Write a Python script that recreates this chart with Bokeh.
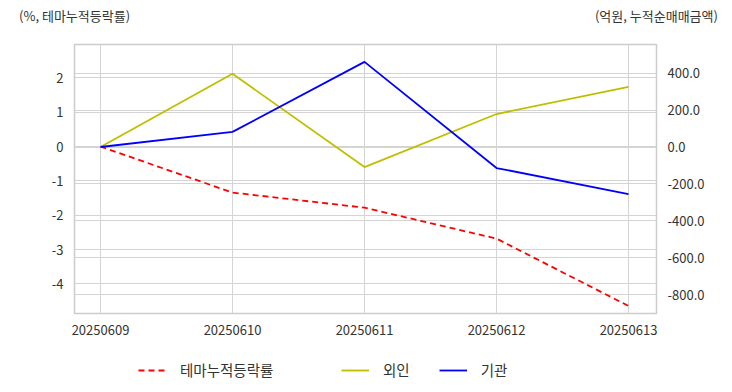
from bokeh.plotting import figure
from bokeh.layouts import column
from bokeh.models import (Range1d, LinearAxis, FixedTicker, Grid, Legend, LegendItem,
                          PrintfTickFormatter, ColumnDataSource)
from bokeh.embed import file_html
from bokeh.resources import INLINE

dates = ["20250609", "20250610", "20250611", "20250612", "20250613"]
theme_cum = [0.0, -1.34, -1.78, -2.68, -4.64]      # 테마누적등락률 (%)
foreign = [0.0, 397.0, -109.0, 179.0, 326.0]      # 외인 (억원)
institution = [0.0, 82.0, 462.0, -114.0, -255.0]  # 기관 (억원)
left_ticks = [-4, -3, -2, -1, 0, 1, 2]
right_ticks = [-800, -600, -400, -200, 0, 200, 400]
series_names = ["테마누적등락률", "외인", "기관"]
series_colors = ["#ff0000", "#bfbf00", "#0000ff"]
left_title = "(%, 테마누적등락률)"
right_title = "(억원, 누적순매매금액)"

FONT = "Noto Sans CJK KR"
TXT = "#333333"
W = 730
xs = list(range(len(dates)))
src = ColumnDataSource(dict(x=xs, theme=theme_cum, foreign=foreign, inst=institution))

# ---------------- main chart
p = figure(width=W, height=345, output_backend="svg", toolbar_location=None,
           x_range=Range1d(-0.197, 4.212), y_range=Range1d(-4.86, 2.97))
p.min_border_left = 74
p.min_border_right = 74
p.min_border_top = 44
p.min_border_bottom = 32
p.outline_line_color = "#cccccc"
p.outline_line_width = 1.5

xax = p.below[0]
lax = p.left[0]

# right axis (억원)
p.extra_y_ranges = {"right": Range1d(-903, 556)}
rax = LinearAxis(y_range_name="right", ticker=FixedTicker(ticks=right_ticks),
                 formatter=PrintfTickFormatter(format="%.1f"))
p.add_layout(rax, "right")

# header captions carried by an axis above the frame (ticks at both frame edges)
p.extra_x_ranges = {"hdr": Range1d(-0.0001, 1.0001)}
hax = LinearAxis(x_range_name="hdr", ticker=FixedTicker(ticks=[0, 1]),
                 major_label_overrides={0: left_title, 1: right_title})
p.add_layout(hax, "above")

lax.ticker = FixedTicker(ticks=left_ticks)
lax.formatter = PrintfTickFormatter(format="%d")
xax.ticker = FixedTicker(ticks=xs)
xax.major_label_overrides = {i: d for i, d in enumerate(dates)}

for ax in (xax, lax, rax, hax):
    ax.axis_line_color = None
    ax.major_tick_line_color = None
    ax.minor_tick_line_color = None
    ax.major_label_text_font = FONT
    ax.major_label_text_font_size = "13px"
    ax.major_label_text_color = TXT
    ax.major_label_standoff = 5
hax.major_label_standoff = 14

p.xgrid.grid_line_color = "#d4d4d4"
p.ygrid.grid_line_color = "#d4d4d4"
p.add_layout(Grid(dimension=1, ticker=FixedTicker(ticks=right_ticks), y_range_name="right",
                  grid_line_color="#d4d4d4"))

p.line("x", "theme", source=src, line_color=series_colors[0], line_width=1.8, line_dash="6 4")
p.line("x", "foreign", source=src, line_color=series_colors[1], line_width=1.8,
       y_range_name="right")
p.line("x", "inst", source=src, line_color=series_colors[2], line_width=1.8,
       y_range_name="right")

# ---------------- legend strip under the chart (same frame borders as the chart)
lg = figure(width=W, height=45, output_backend="svg", toolbar_location=None,
            x_range=Range1d(1000, 1001), y_range=Range1d(10000, 10001),
            x_axis_type=None, y_axis_type=None)
lg.min_border_left = 74
lg.min_border_right = 74
lg.min_border_top = 0
lg.min_border_bottom = 0
lg.outline_line_color = None
lg.grid.visible = False

# same series, outside this strip's view: they only lend their style to the legend
l1 = lg.line("x", "theme", source=src, line_color=series_colors[0], line_width=1.8,
             line_dash="6 4")
l2 = lg.line("x", "foreign", source=src, line_color=series_colors[1], line_width=1.8)
l3 = lg.line("x", "inst", source=src, line_color=series_colors[2], line_width=1.8)


def mk_legend(items, loc):
    return Legend(items=items, location=loc, orientation="horizontal",
                  border_line_alpha=0, background_fill_alpha=0, padding=0, margin=0,
                  spacing=29, glyph_width=28, glyph_height=20, label_standoff=14,
                  label_text_font=FONT, label_text_font_size="14.5px",
                  label_text_color=TXT)


lg.add_layout(mk_legend([LegendItem(label=series_names[0], renderers=[l1])], (64, 10)))
lg.add_layout(mk_legend([LegendItem(label=series_names[1], renderers=[l2]),
                         LegendItem(label=series_names[2], renderers=[l3])], (267, 10)))

layout = column(p, lg, spacing=0)
open("out.html", "w").write(file_html(layout, INLINE))
